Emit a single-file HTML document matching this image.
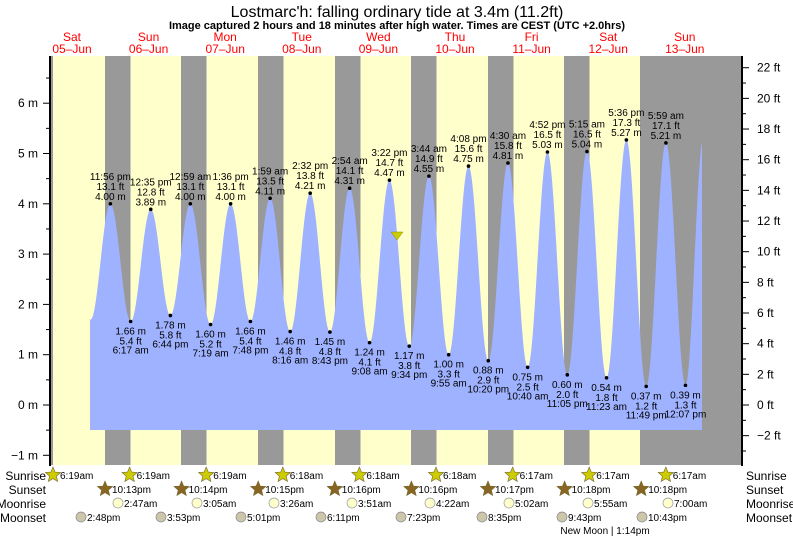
<!DOCTYPE html>
<html><head><meta charset="utf-8"><style>
body{margin:0;background:#fff;}
svg{display:block;font-family:"Liberation Sans",sans-serif;}
</style></head><body>
<svg id="s" width="793" height="538" xmlns="http://www.w3.org/2000/svg">
<rect x="0" y="0" width="793" height="538" fill="#fff"/>
<text x="397" y="17" font-size="16" text-anchor="middle" fill="#000">Lostmarc'h: falling  ordinary tide at 3.4m (11.2ft)</text>
<text x="397" y="29" font-size="11" font-weight="bold" text-anchor="middle" fill="#000">Image captured 2 hours and 18 minutes after high water. Times are CEST (UTC +2.0hrs)</text>
<g id="g"></g>
</svg>
<script>
var NS="http://www.w3.org/2000/svg",g=document.getElementById('g');
function el(t,a,txt){var e=document.createElementNS(NS,t);for(var k in a)e.setAttribute(k,a[k]);if(txt!==undefined)e.textContent=txt;g.appendChild(e);return e;}
var X0=34,DW=76.6,PH=DW/24;
function xt(d,h,m){return X0+d*DW+(h+m/60)*PH;}
function ym(v){return 405-v*50.3;}
el('rect',{x:50,y:56,width:691,height:409,fill:'#ffffcc'});
el('rect',{x:50,y:56,width:3,height:409,fill:'#999'});
var nights=[105,181,258,335,411,488,564];
nights.forEach(function(n){el('rect',{x:n,y:56,width:25.5,height:409,fill:'#999'});});
el('rect',{x:640,y:56,width:101,height:409,fill:'#999'});
var days=[['Sat','05–Jun'],['Sun','06–Jun'],['Mon','07–Jun'],['Tue','08–Jun'],['Wed','09–Jun'],['Thu','10–Jun'],['Fri','11–Jun'],['Sat','12–Jun'],['Sun','13–Jun']];
days.forEach(function(d,i){var cx=72+i*76.6;el('text',{x:cx,y:41,'font-size':12,'text-anchor':'middle',fill:'#f00'},d[0]);el('text',{x:cx,y:53,'font-size':12,'text-anchor':'middle',fill:'#f00'},d[1]);});
var ev=[[0,23,56,4.00,'H','11:56 pm','13.1 ft'],[1,6,17,1.66,'L','6:17 am','5.4 ft'],[1,12,35,3.89,'H','12:35 pm','12.8 ft'],[1,18,44,1.78,'L','6:44 pm','5.8 ft'],
[2,0,59,4.00,'H','12:59 am','13.1 ft'],[2,7,19,1.60,'L','7:19 am','5.2 ft'],[2,13,36,4.00,'H','1:36 pm','13.1 ft'],[2,19,48,1.66,'L','7:48 pm','5.4 ft'],
[3,1,59,4.11,'H','1:59 am','13.5 ft'],[3,8,16,1.46,'L','8:16 am','4.8 ft'],[3,14,32,4.21,'H','2:32 pm','13.8 ft'],[3,20,43,1.45,'L','8:43 pm','4.8 ft'],
[4,2,54,4.31,'H','2:54 am','14.1 ft'],[4,9,8,1.24,'L','9:08 am','4.1 ft'],[4,15,22,4.47,'H','3:22 pm','14.7 ft'],[4,21,34,1.17,'L','9:34 pm','3.8 ft'],
[5,3,44,4.55,'H','3:44 am','14.9 ft'],[5,9,55,1.00,'L','9:55 am','3.3 ft'],[5,16,8,4.75,'H','4:08 pm','15.6 ft'],[5,22,20,0.88,'L','10:20 pm','2.9 ft'],
[6,4,30,4.81,'H','4:30 am','15.8 ft'],[6,10,40,0.75,'L','10:40 am','2.5 ft'],[6,16,52,5.03,'H','4:52 pm','16.5 ft'],[6,23,5,0.60,'L','11:05 pm','2.0 ft'],
[7,5,15,5.04,'H','5:15 am','16.5 ft'],[7,11,23,0.54,'L','11:23 am','1.8 ft'],[7,17,36,5.27,'H','5:36 pm','17.3 ft'],[7,23,49,0.37,'L','11:49 pm','1.2 ft'],
[8,5,59,5.21,'H','5:59 am','17.1 ft'],[8,12,7,0.39,'L','12:07 pm','1.3 ft']];
var pts=ev.map(function(e){return [xt(e[0],e[1],e[2]),e[3]];});
pts.unshift([pts[0][0]-6.2*PH,1.70]);
pts.push([pts[pts.length-1][0]+5.6*PH,5.3]);
var d='M90,430 ';
for(var x=90;x<=702;x+=0.5){
 var i=0;while(i<pts.length-2&&pts[i+1][0]<x)i++;
 var a=pts[i],b=pts[i+1],t=(x-a[0])/(b[0]-a[0]);t=Math.max(0,Math.min(1,t));
 var v=a[1]+(b[1]-a[1])*(1-Math.cos(Math.PI*t))/2;
 d+='L'+x.toFixed(1)+','+ym(v).toFixed(1)+' ';
}
d+='L702,430 Z';
el('path',{d:d,fill:'#9fb2ff'});
ev.forEach(function(e){var x=xt(e[0],e[1],e[2]),y=ym(e[3]);
 el('circle',{cx:x,cy:y,r:1.8,fill:'#000'});
 var f={'font-size':10,'text-anchor':'middle',fill:'#000'};
 function T(yy,s){var o={};for(var k in f)o[k]=f[k];o.x=x;o.y=yy;el('text',o,s);}
 if(e[4]=='H'){T(y-4,e[3].toFixed(2)+' m');T(y-14,e[6]);T(y-24,e[5]);}
 else{T(y+13,e[3].toFixed(2)+' m');T(y+23,e[6]);T(y+32,e[5]);}
});
el('polygon',{points:'391,232 403,232 397,240',fill:'#cccc00',stroke:'#888800','stroke-width':0.5});
el('line',{x1:50,y1:56,x2:50,y2:466,stroke:'#000','stroke-width':2});
el('line',{x1:742,y1:56,x2:742,y2:466,stroke:'#000','stroke-width':2});
for(var v=-1;v<=6.5;v+=0.5){var y=ym(v);var maj=(v%1===0);
 el('line',{x1:maj?43:46,y1:y,x2:50,y2:y,stroke:'#000'});
 if(maj)el('text',{x:38,y:y+4,'font-size':12,'text-anchor':'end',fill:'#000'},(v<0?'\u22121':v)+' m');}
for(var f=-3;f<=22;f++){var y=405-f*0.3048*50.3;var maj=(f%2===0);
 el('line',{x1:742,y1:y,x2:maj?749:746,y2:y,stroke:'#000'});
 if(maj)el('text',{x:757,y:y+4,'font-size':12,fill:'#000'},(f<0?'\u2212'+(-f):f)+' ft');}
function star(cx,cy,c){var p='';for(var k=0;k<10;k++){var r=k%2?3.6:8,a=-Math.PI/2+k*Math.PI/5;p+=(cx+r*Math.cos(a)).toFixed(1)+','+(cy+r*Math.sin(a)).toFixed(1)+' ';}el('polygon',{points:p,fill:c,stroke:'#776633','stroke-width':0.6});}
var rows=[['Sunrise',476],['Sunset',490],['Moonrise',504],['Moonset',518]];
rows.forEach(function(r){el('text',{x:46,y:r[1]+4,'font-size':12,'text-anchor':'end',fill:'#000'},r[0]);el('text',{x:746,y:r[1]+4,'font-size':12,fill:'#000'},r[0]);});
var sr=['6:19am','6:19am','6:19am','6:18am','6:18am','6:18am','6:17am','6:17am','6:17am'];
sr.forEach(function(s,i){var x=53+i*76.6;star(x,475,'#cccc00');el('text',{x:x+7,y:479,'font-size':10,fill:'#000'},s);});
var ss=['10:13pm','10:14pm','10:15pm','10:16pm','10:16pm','10:17pm','10:18pm','10:18pm'];
ss.forEach(function(s,i){var x=105+i*76.6;star(x,489,'#886622');el('text',{x:x+7,y:493,'font-size':10,fill:'#000'},s);});
var mr=[[118,'2:47am'],[197,'3:05am'],[274,'3:26am'],[352,'3:51am'],[430,'4:22am'],[509,'5:02am'],[588,'5:55am'],[668,'7:00am']];
mr.forEach(function(m){el('circle',{cx:m[0],cy:503,r:5,fill:'#ffffcc',stroke:'#999','stroke-width':0.7});el('text',{x:m[0]+6,y:507,'font-size':10,fill:'#000'},m[1]);});
var ms=[[81,'2:48pm'],[161,'3:53pm'],[241,'5:01pm'],[321,'6:11pm'],[401,'7:23pm'],[482,'8:35pm'],[562,'9:43pm'],[642,'10:43pm']];
ms.forEach(function(m){el('circle',{cx:m[0],cy:517,r:5,fill:'#ccc6aa',stroke:'#888','stroke-width':0.7});el('text',{x:m[0]+6,y:521,'font-size':10,fill:'#000'},m[1]);});
el('text',{x:605,y:534,'font-size':10,'text-anchor':'middle',fill:'#000'},'New Moon | 1:14pm');
</script>
</body></html>
